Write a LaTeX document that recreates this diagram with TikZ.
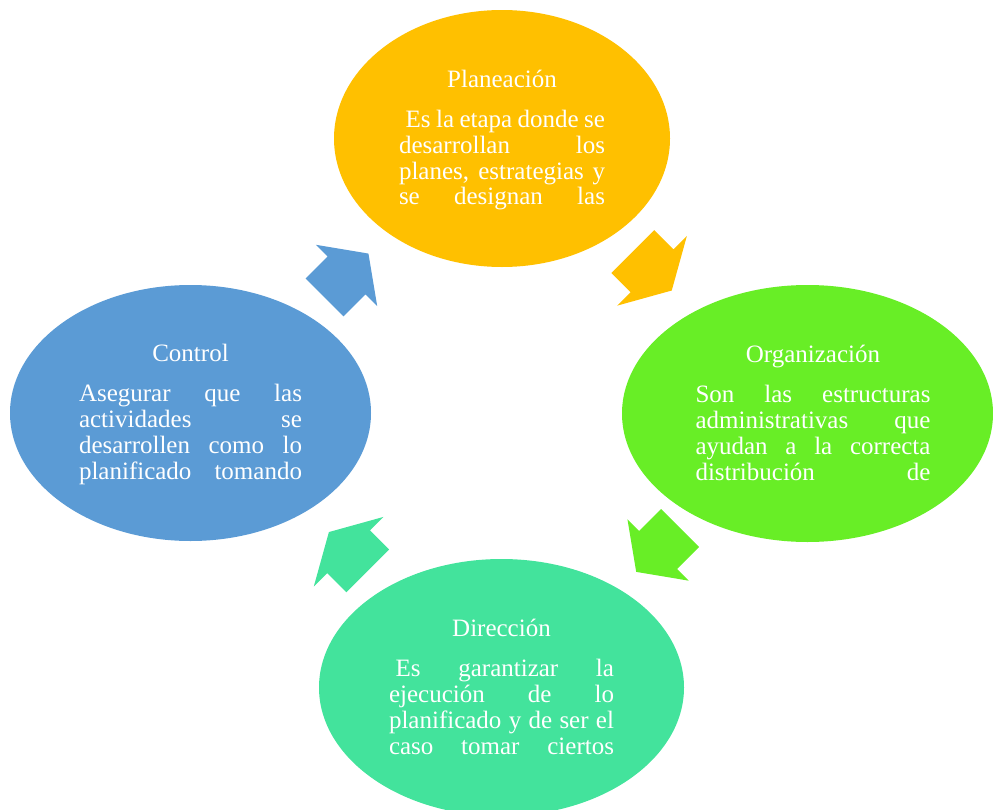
\documentclass[tikz,border=0pt]{standalone}
\usepackage{fontspec}
\setmainfont{Liberation Serif}
\usepackage{xcolor}
\usepackage{tikz}
\usetikzlibrary{calc,shapes.geometric,shapes.arrows}

\definecolor{plancol}{HTML}{FFC000}
\definecolor{orgcol}{HTML}{68EE26}
\definecolor{dircol}{HTML}{43E39C}
\definecolor{ctrlcol}{HTML}{5B9BD5}

% one justified line of a stage text
\newcommand{\fillline}[1]{\makebox[\linewidth][s]{#1}}

\begin{document}
\begin{tikzpicture}[
  x=0.75pt, y=-0.75pt,
  stage/.style={ellipse, draw=none, inner sep=0pt},
  stagetext/.style={anchor=base, text=white, inner sep=0pt,
    font=\fontsize{18.75pt}{19.5pt}\selectfont},
  thinarrow/.style={single arrow, draw=none, inner xsep=0pt, inner ysep=19.9pt,
    minimum width=64.5pt, minimum height=46.5pt,
    single arrow head extend=12.4pt, single arrow tip angle=109},
  widearrow/.style={single arrow, draw=none, inner xsep=0pt, inner ysep=22.5pt,
    minimum width=73.5pt, minimum height=41.25pt,
    single arrow head extend=14.25pt, single arrow tip angle=121}
]
  \useasboundingbox (0,0) rectangle (993,810);

  % the four stages
  \node[stage, fill=plancol, minimum width=252pt, minimum height=192.75pt] (plan) at (502,138.5) {};
  \node[stage, fill=orgcol, minimum width=278.25pt, minimum height=192.75pt] (org) at (807.5,413.5) {};
  \node[stage, fill=dircol, minimum width=273.75pt, minimum height=192.75pt] (dir) at (501.5,687.5) {};
  \node[stage, fill=ctrlcol, minimum width=270.75pt, minimum height=192pt] (ctrl) at (190.5,413) {};

  % texts
  \node[stagetext] (plantext) at ($(plan.center)+(0,-51.5)$) {\parbox[t]{154.5pt}{\centering
    Planeación\\[10.5pt]
    \fillline{\hspace*{5pt}Es la etapa donde se}\\
    \fillline{desarrollan los}\\
    \fillline{planes, estrategias y}\\
    \fillline{se designan las}}};
  \node[stagetext] (orgtext) at ($(org.center)+(5.5,-51.5)$) {\parbox[t]{176.25pt}{\centering
    Organización\\[10.5pt]
    \fillline{Son las estructuras}\\
    \fillline{administrativas que}\\
    \fillline{ayudan a la correcta}\\
    \fillline{distribución de}}};
  \node[stagetext] (dirtext) at ($(dir.center)+(0,-51.5)$) {\parbox[t]{168.75pt}{\centering
    Dirección\\[10.5pt]
    \fillline{\hspace*{5pt}Es garantizar la}\\
    \fillline{ejecución de lo}\\
    \fillline{planificado y de ser el}\\
    \fillline{caso tomar ciertos}}};
  \node[stagetext] (ctrltext) at ($(ctrl.center)+(0,-51.5)$) {\parbox[t]{167.25pt}{\centering
    Control\\[10.5pt]
    \fillline{Asegurar que las}\\
    \fillline{actividades se}\\
    \fillline{desarrollen como lo}\\
    \fillline{planificado tomando}}};

  % cycle arrows
  \node[thinarrow, fill=ctrlcol, rotate=45] (ctrlarrow) at ($(ctrl)!0.5!(plan)+(-6.5,6.5)$) {};
  \node[widearrow, fill=plancol, rotate=-45] (planarrow) at ($(plan)!0.5!(org)+(-8.5,-11)$) {};
  \node[thinarrow, fill=orgcol, rotate=-135] (orgarrow) at ($(org)!0.5!(dir)+(10.4,-7.3)$) {};
  \node[widearrow, fill=dircol, rotate=135] (dirarrow) at ($(dir)!0.5!(ctrl)+(8.4,7.3)$) {};
\end{tikzpicture}
\end{document}
